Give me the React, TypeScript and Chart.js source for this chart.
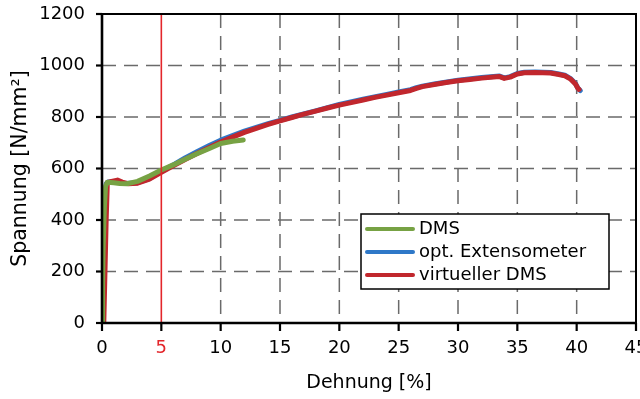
import React, { useEffect, useRef } from "react";
import { Chart, registerables } from "chart.js";

Chart.register(...registerables);

// ---- data ----
const seriesNames = ["DMS", "opt. Extensometer", "virtueller DMS"];

const dmsStrain = [0, 0.05, 0.1, 0.2, 0.3, 0.45, 1.0, 1.5, 2.1, 3.0, 4.0, 5.0, 6.0, 7.0, 8.0, 9.0, 10.0, 11.0, 11.9];
const dmsStress = [0, 150, 300, 450, 530, 547, 545, 542, 541, 550, 571, 594, 614, 636, 657, 677, 697, 706, 711];

const extStrain = [0.05, 0.1, 0.2, 0.35, 0.5, 1.0, 2.0, 3.0, 4.0, 5.0, 6.0, 7.0, 8.0, 9.0, 10.0, 11.0, 12.0, 13.0, 14.0, 15.0, 16.0, 18.0, 20.0, 22.0, 24.0, 25.0, 26.0, 26.5, 27.0, 28.0, 30.0, 32.0, 33.0, 33.5, 33.9, 34.4, 35.0, 35.6, 36.5, 37.8, 38.5, 39.0, 39.5, 39.9, 40.1, 40.3];
const extStress = [0, 200, 400, 540, 548, 548, 542, 545, 561, 588, 614, 641, 665, 688, 710, 728, 745, 760, 774, 787, 800, 824, 849, 869, 888, 897, 906, 914, 920, 928, 943, 953, 957, 959, 952, 957, 969, 974, 975, 973, 967, 962, 949, 930, 912, 903];

const virtStrain = [0.15, 0.25, 0.35, 0.45, 0.8, 1.3, 1.7, 2.2, 3.0, 4.0, 5.0, 6.0, 7.0, 8.0, 9.0, 10.0, 11.0, 12.0, 13.0, 14.0, 15.0, 16.0, 17.0, 18.0, 19.0, 20.0, 21.0, 22.0, 23.0, 24.0, 25.0, 26.0, 26.5, 27.0, 28.0, 29.0, 30.0, 31.0, 32.0, 33.0, 33.5, 33.9, 34.4, 35.0, 35.6, 36.5, 37.8, 38.5, 39.0, 39.5, 39.9, 40.1, 40.2];
const virtStress = [0, 200, 400, 545, 550, 555, 547, 541, 543, 559, 585, 610, 635, 658, 681, 703, 722, 740, 756, 771, 785, 798, 811, 823, 835, 846, 856, 866, 876, 885, 894, 903, 911, 918, 926, 934, 941, 946, 951, 955, 957, 950, 955, 967, 972, 973, 971, 965, 960, 947, 928, 912, 907];

const xTickValues = [0, 5, 10, 15, 20, 25, 30, 35, 40, 45];
const yTickValues = [0, 200, 400, 600, 800, 1000, 1200];
const markerStrain = 5;

const xTitle = "Dehnung [%]";
const yTitle = "Spannung [N/mm²]";

// ---- styles ----
const GREEN = "#77A244";
const BLUE = "#2E78C8";
const RED = "#C1272D";
const MARK_RED = "#E3262B";
const GRID = "#6A6A6A";
const FONT = "'DejaVu Sans', sans-serif";

const toPts = (xs: number[], ys: number[]) => xs.map((x, i) => ({ x, y: ys[i] }));

const framePlugin = {
  id: "frame",
  beforeDatasetsDraw(chart: any) {
    const { ctx, chartArea: a, scales } = chart;
    const xs = scales.x, ys = scales.y;
    ctx.save();
    ctx.strokeStyle = GRID;
    ctx.lineWidth = 1.5;
    ctx.setLineDash([14, 8]);
    for (const v of yTickValues) {
      if (v === yTickValues[0] || v === yTickValues[yTickValues.length - 1]) continue;
      const py = ys.getPixelForValue(v);
      ctx.beginPath();
      ctx.moveTo(a.left, py);
      ctx.lineTo(a.right, py);
      ctx.stroke();
    }
    for (const v of xTickValues) {
      if (v === xTickValues[0] || v === markerStrain || v === xTickValues[xTickValues.length - 1]) continue;
      const px = xs.getPixelForValue(v);
      ctx.beginPath();
      ctx.moveTo(px, a.top);
      ctx.lineTo(px, a.bottom);
      ctx.stroke();
    }
    ctx.restore();
  },
  afterDatasetsDraw(chart: any) {
    const { ctx, chartArea: a, scales } = chart;
    const xs = scales.x, ys = scales.y;
    ctx.save();
    // marker line
    const mx = xs.getPixelForValue(markerStrain);
    ctx.strokeStyle = MARK_RED;
    ctx.lineWidth = 1.6;
    ctx.beginPath();
    ctx.moveTo(mx, a.top);
    ctx.lineTo(mx, a.bottom);
    ctx.stroke();

    // frame top/right
    ctx.strokeStyle = "#000";
    ctx.lineWidth = 2;
    ctx.beginPath();
    ctx.moveTo(a.left, a.top);
    ctx.lineTo(a.right, a.top);
    ctx.lineTo(a.right, a.bottom);
    ctx.stroke();
    // axes
    ctx.lineWidth = 2.6;
    ctx.beginPath();
    ctx.moveTo(a.left, a.top - 1);
    ctx.lineTo(a.left, a.bottom);
    ctx.lineTo(a.right, a.bottom);
    ctx.stroke();
    // tick marks
    ctx.lineWidth = 2.2;
    for (const v of yTickValues) {
      const py = ys.getPixelForValue(v);
      ctx.beginPath();
      ctx.moveTo(a.left - 6, py);
      ctx.lineTo(a.left, py);
      ctx.stroke();
    }
    for (const v of xTickValues) {
      const px = xs.getPixelForValue(v);
      ctx.beginPath();
      ctx.moveTo(px, a.bottom);
      ctx.lineTo(px, a.bottom + 8);
      ctx.stroke();
    }

    // legend
    const bx = 361, by = 214, bw = 248, bh = 75;
    ctx.fillStyle = "#fff";
    ctx.fillRect(bx, by, bw, bh);
    ctx.strokeStyle = "#000";
    ctx.lineWidth = 1.5;
    ctx.strokeRect(bx, by, bw, bh);
    const colors = [GREEN, BLUE, RED];
    ctx.font = `18px ${FONT}`;
    ctx.textBaseline = "middle";
    ctx.textAlign = "left";
    seriesNames.forEach((name, i) => {
      const ly = by + 15 + i * 23;
      ctx.strokeStyle = colors[i];
      ctx.lineWidth = 4;
      ctx.lineCap = "round";
      ctx.beginPath();
      ctx.moveTo(bx + 6, ly);
      ctx.lineTo(bx + 52, ly);
      ctx.stroke();
      ctx.fillStyle = "#000";
      ctx.fillText(name, bx + 58, ly);
    });
    ctx.restore();
  },
};

export default function App() {
  const ref = useRef<HTMLCanvasElement | null>(null);
  useEffect(() => {
    document.body.style.margin = "0";
    const canvas = ref.current;
    if (!canvas) return;
    const lineDs = (label: string, xs: number[], ys: number[], color: string, order: number) => ({
      label,
      data: toPts(xs, ys),
      borderColor: color,
      backgroundColor: color,
      borderWidth: 5,
      pointRadius: 0,
      tension: 0,
      borderJoinStyle: "round" as const,
      borderCapStyle: "round" as const,
      order,
    });
    const chart = new Chart(canvas, {
      type: "line",
      data: {
        datasets: [
          lineDs(seriesNames[0], dmsStrain, dmsStress, GREEN, 0),
          lineDs(seriesNames[1], extStrain, extStress, BLUE, 2),
          lineDs(seriesNames[2], virtStrain, virtStress, RED, 1),
        ],
      },
      options: {
        animation: false,
        responsive: false,
        devicePixelRatio: 1,
        layout: { padding: { top: 14, right: 4, left: 0, bottom: 0 } },
        plugins: { legend: { display: false }, tooltip: { enabled: false } },
        scales: {
          x: {
            type: "linear",
            min: xTickValues[0],
            max: xTickValues[xTickValues.length - 1],
            afterBuildTicks: (s: any) => { s.ticks = xTickValues.map((v) => ({ value: v })); },
            afterFit: (s: any) => { s.height = 76; s.paddingRight = 0; s.paddingLeft = 0; },
            grid: { display: false, drawTicks: false },
            border: { display: false },
            ticks: {
              padding: 15,
              font: { family: FONT, size: 18 },
              color: (c: any) => (c.tick && c.tick.value === markerStrain ? MARK_RED : "#000"),
              callback: (v: any) => String(v),
              maxRotation: 0,
              autoSkip: false,
            },
            title: { display: true, text: xTitle, font: { family: FONT, size: 19 }, color: "#000", padding: { top: 0, bottom: 5 } },
          },
          y: {
            type: "linear",
            min: yTickValues[0],
            max: yTickValues[yTickValues.length - 1],
            afterBuildTicks: (s: any) => { s.ticks = yTickValues.map((v) => ({ value: v })); },
            afterFit: (s: any) => { s.width = 102; s.paddingTop = 0; s.paddingBottom = 0; },
            grid: { display: false, drawTicks: false },
            border: { display: false },
            ticks: { padding: 17, font: { family: FONT, size: 18 }, color: "#000", callback: (v: any) => String(v) },
            title: { display: true, text: yTitle, font: { family: FONT, size: 20.5 }, color: "#000", padding: { top: 8, bottom: 0 } },
          },
        },
      },
      plugins: [framePlugin],
    });
    return () => chart.destroy();
  }, []);
  return (
    <div style={{ width: 640, height: 399 }}>
      <canvas ref={ref} width={640} height={399} style={{ display: "block" }} />
    </div>
  );
}
